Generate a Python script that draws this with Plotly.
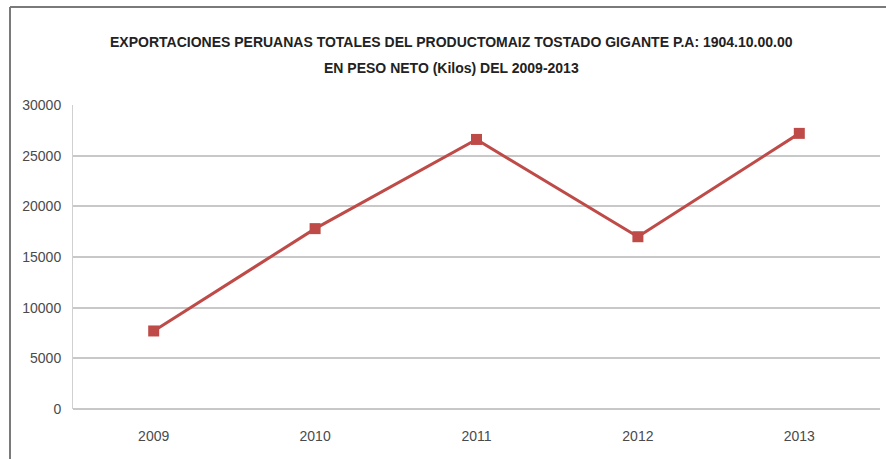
import plotly.graph_objects as go

years = ["2009", "2010", "2011", "2012", "2013"]
kilos = [7700, 17800, 26600, 17000, 27200]
y_ticks = [0, 5000, 10000, 15000, 20000, 25000, 30000]

title_lines = [
    "EXPORTACIONES PERUANAS TOTALES DEL PRODUCTOMAIZ TOSTADO GIGANTE P.A: 1904.10.00.00",
    "EN PESO NETO (Kilos) DEL 2009-2013",
]

W, H = 886, 459
L, R, T, B = 73, 6, 105, 50
pw, ph = W - L - R, H - T - B

def px_to_paper_x(px):
    return (px - L) / pw

def px_to_paper_y(py):
    return (H - B - py) / ph

fig = go.Figure()
fig.add_trace(go.Scatter(
    x=years, y=kilos, mode="lines+markers",
    line=dict(color="#BE4B48", width=3),
    marker=dict(symbol="square", size=11, color="#BE4B48"),
    hoverinfo="x+y", showlegend=False,
))

# two-line heading, placed line by line for wider spacing
annotations = []
for text, center_px in zip(title_lines, [42, 68]):
    annotations.append(dict(
        text="<b>" + text + "</b>", showarrow=False,
        xref="paper", yref="paper",
        x=px_to_paper_x(451), y=px_to_paper_y(center_px),
        xanchor="center", yanchor="middle",
        font=dict(size=14, color="#222"),
    ))

fig.update_layout(
    width=W, height=H,
    margin=dict(l=L, r=R, t=T, b=B),
    paper_bgcolor="white", plot_bgcolor="white",
    font=dict(family="Liberation Sans, sans-serif", color="#444"),
    annotations=annotations,
    xaxis=dict(
        type="category", range=[-0.5, 4.5], showgrid=False, ticks="",
        showline=False, tickfont=dict(size=14, color="#4A4A4A"),
        ticklabelstandoff=17,
    ),
    yaxis=dict(
        range=[0, 30000], tickvals=y_ticks, ticktext=[str(v) for v in y_ticks],
        showgrid=True, gridcolor="#C8C8C8", gridwidth=1.5,
        zeroline=True, zerolinecolor="#C8C8C8", zerolinewidth=1.5,
        showline=True, linecolor="#D0D0D0", linewidth=1,
        ticks="", ticklen=0, tickfont=dict(size=14, color="#4A4A4A"),
        ticklabelstandoff=8,
    ),
    shapes=[
        # outer frame: left and top edges
        dict(type="line", xref="paper", yref="paper",
             x0=px_to_paper_x(10), x1=px_to_paper_x(10),
             y0=px_to_paper_y(470), y1=px_to_paper_y(7),
             line=dict(color="#7A7A7A", width=2), layer="above"),
        dict(type="line", xref="paper", yref="paper",
             x0=px_to_paper_x(10), x1=px_to_paper_x(886),
             y0=px_to_paper_y(7), y1=px_to_paper_y(7),
             line=dict(color="#7A7A7A", width=2), layer="above"),
    ],
)

fig.write_html("out.html")
